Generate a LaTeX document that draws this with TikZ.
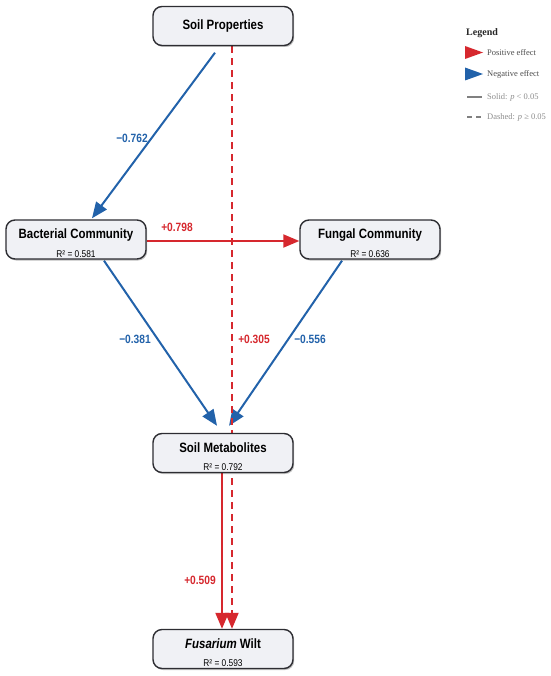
\documentclass[tikz,border=0pt]{standalone}
\usepackage{fontspec}
\setmainfont{Liberation Serif}
\newfontfamily\nsans{Liberation Sans}[FakeStretch=0.85]
\usetikzlibrary{arrows.meta,shadows}
\definecolor{posred}{RGB}{214,40,46}
\definecolor{negblue}{RGB}{34,98,170}
\definecolor{boxfill}{RGB}{240,241,245}
\definecolor{boxline}{RGB}{45,45,50}
\pgfdeclarelayer{background}
\pgfsetlayers{background,main}
\tikzset{
  varbox/.style={draw=boxline, line width=1.4pt, fill=boxfill, rounded corners=9pt,
    minimum width=140pt, minimum height=39pt, inner sep=0pt, align=center,
    drop shadow={shadow xshift=1.2pt, shadow yshift=-1.5pt, opacity=0.25, fill=black}},
  posedge/.style={draw=posred, line width=2pt, -{Triangle[length=16pt,width=13pt]}},
  negedge/.style={draw=negblue, line width=2pt, -{Triangle[length=16pt,width=13pt]}},
  nsigedge/.style={posedge, dash pattern=on 7pt off 5pt},
  poslab/.style={text=posred, font=\nsans\bfseries\fontsize{12}{14}\selectfont, inner sep=0pt},
  neglab/.style={text=negblue, font=\nsans\bfseries\fontsize{12}{14}\selectfont, inner sep=0pt},
  legtxt/.style={anchor=west, inner sep=0pt, font=\fontsize{8.5}{10}\selectfont},
}
\newcommand{\rsq}[1]{\rule{0pt}{17pt}\\[6.5pt]{\nsans\fontsize{9.8}{11}\selectfont R² = #1}}
\newcommand{\ttlfont}{\nsans\bfseries\fontsize{13.5}{15}\selectfont}
\begin{document}
\begin{tikzpicture}[x=1pt,y=-1pt]
\useasboundingbox (0,0) rectangle (550,676);
% nodes
\node[varbox] (sp) at (223,26) {{\ttlfont Soil Properties}};
\node[varbox] (bc) at (76,239.5) {{\ttlfont Bacterial Community}\rsq{0.581}};
\node[varbox] (fc) at (370,239.5) {{\ttlfont Fungal Community}\rsq{0.636}};
\node[varbox] (sm) at (223,453) {{\ttlfont Soil Metabolites}\rsq{0.792}};
\node[varbox] (fw) at (223,649) {{\ttlfont\itshape Fusarium\upshape{} Wilt}\rsq{0.593}};
% connectors
\begin{pgfonlayer}{background}
\draw[negedge] ([xshift=-8pt,yshift=-6.5pt]sp.south) -- ([xshift=16pt,yshift=1pt]bc.north);
\draw[posedge] ([yshift=-1.5pt]bc.east) -- ([yshift=-1.5pt]fc.west);
\draw[negedge] ([xshift=28pt,yshift=-1pt]bc.south) -- ([xshift=-6pt,yshift=7pt]sm.north);
\draw[negedge] ([xshift=-28pt,yshift=-1pt]fc.south) -- ([xshift=6pt,yshift=7pt]sm.north);
\draw[posedge] ([xshift=-1pt]sm.south) -- ([xshift=-1pt]fw.north);
\draw[nsigedge] ([xshift=9pt]sp.south) -- ([xshift=9pt]fw.north);
\end{pgfonlayer}
% labels
\node[neglab] (l1) at (132,138) {−0.762};
\node[poslab] (l2) at (177,227) {+0.798};
\node[neglab] (l3) at (135,339) {−0.381};
\node[poslab] (l4) at (254,339) {+0.305};
\node[neglab] (l5) at (310,339) {−0.556};
\node[poslab] (l6) at (200,580) {+0.509};
% legend
\node[anchor=west, inner sep=0pt, font=\bfseries\fontsize{10}{11}\selectfont, text=black!85] (lg) at (466,33) {Legend};
\fill[posred] (465,46) -- (483,52.5) -- (465,59) -- cycle;
\node[legtxt, text=black!70] (lp) at (487,53) {Positive effect};
\fill[negblue] (465,67.5) -- (483,74) -- (465,80.5) -- cycle;
\node[legtxt, text=black!70] (ln) at (487,74) {Negative effect};
\draw[black!50, line width=1.2pt] (467,97) -- (482,97);
\node[legtxt, text=black!45] (ls) at (487,97) {Solid: \textit{p} < 0.05};
\draw[black!50, line width=1.2pt, dash pattern=on 5pt off 4pt] (467,117) -- (482,117);
\node[legtxt, text=black!45] (ld) at (487,117) {Dashed: \textit{p} ≥ 0.05};
\end{tikzpicture}
\end{document}
